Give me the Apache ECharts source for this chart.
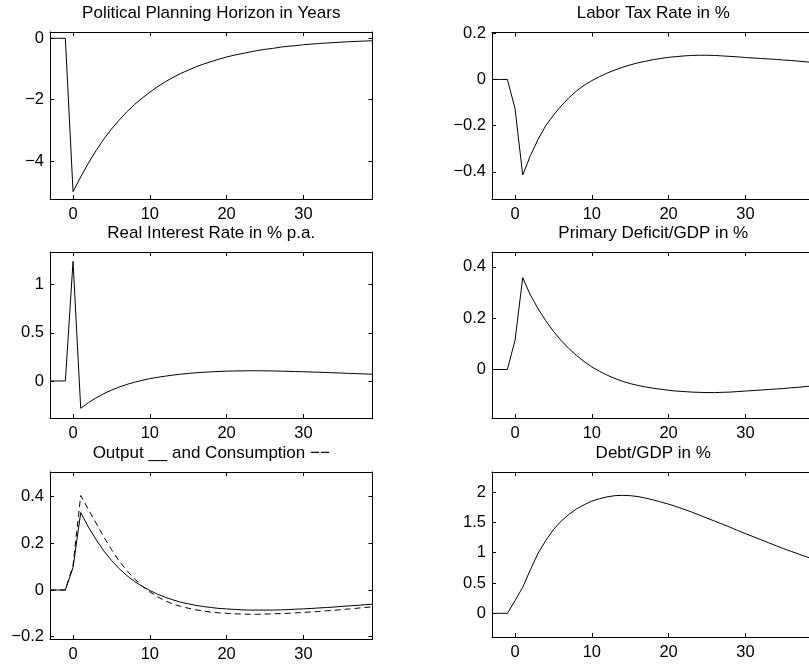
<!DOCTYPE html>
<html>
<head>
<meta charset="utf-8">
<title>Impulse responses</title>
<script src="https://cdn.jsdelivr.net/npm/echarts@6/dist/echarts.min.js"></script>
<style>
  html, body { margin: 0; padding: 0; background: #fff; }
  #chart { width: 809px; height: 667px; }
</style>
</head>
<body>
<div id="chart"></div>
<script>
// years relative to the shock
const years = [-3, -2, -1, 0, 1, 2, 3, 4, 5, 6, 7, 8, 9, 10, 11, 12, 13, 14, 15, 16, 17, 18, 19, 20,
  21, 22, 23, 24, 25, 26, 27, 28, 29, 30, 31, 32, 33, 34, 35, 36, 37, 38, 39]

const horizon = [0, 0, 0, -5.00, -4.52, -4.07, -3.66, -3.29, -2.96, -2.67, -2.40, -2.16, -1.95, -1.76,
  -1.58, -1.42, -1.28, -1.15, -1.04, -0.93, -0.84, -0.76, -0.68, -0.61, -0.55, -0.50, -0.45, -0.40,
  -0.36, -0.33, -0.29, -0.26, -0.24, -0.21, -0.19, -0.17, -0.155, -0.14, -0.125, -0.11, -0.10, -0.09, -0.08]

const laborTax = [0, 0, 0, -0.126, -0.414, -0.33, -0.26, -0.20, -0.155, -0.115, -0.08, -0.05, -0.025,
  -0.005, 0.012, 0.028, 0.041, 0.053, 0.063, 0.072, 0.079, 0.086, 0.091, 0.096, 0.099, 0.102, 0.104,
  0.105, 0.105, 0.104, 0.102, 0.1, 0.098, 0.095, 0.093, 0.091, 0.089, 0.087, 0.084, 0.082, 0.079, 0.076, 0.073]

const realRate = [0, 0, 0, 1.24, -0.283, -0.225, -0.175, -0.132, -0.095, -0.063, -0.036, -0.013, 0.007,
  0.024, 0.038, 0.05, 0.061, 0.07, 0.078, 0.085, 0.09, 0.095, 0.099, 0.102, 0.104, 0.105, 0.106, 0.106,
  0.105, 0.104, 0.102, 0.1, 0.098, 0.096, 0.093, 0.091, 0.088, 0.085, 0.082, 0.079, 0.076, 0.073, 0.07]

const deficit = [0, 0, 0, 0.114, 0.358, 0.29, 0.237, 0.19, 0.149, 0.113, 0.082, 0.055, 0.031, 0.01,
  -0.007, -0.022, -0.035, -0.046, -0.055, -0.062, -0.068, -0.073, -0.077, -0.081, -0.084, -0.086, -0.088,
  -0.089, -0.09, -0.09, -0.089, -0.088, -0.086, -0.084, -0.082, -0.08, -0.078, -0.076, -0.074, -0.071,
  -0.069, -0.066, -0.064]

const output = [0, 0, 0, 0.096, 0.332, 0.27, 0.216, 0.168, 0.127, 0.092, 0.062, 0.037, 0.016, -0.002,
  -0.018, -0.031, -0.042, -0.052, -0.059, -0.066, -0.071, -0.075, -0.079, -0.081, -0.083, -0.085, -0.086,
  -0.086, -0.086, -0.086, -0.085, -0.084, -0.082, -0.081, -0.079, -0.077, -0.075, -0.073, -0.07, -0.068,
  -0.066, -0.063, -0.061]

const consumption = [0, 0, 0, 0.106, 0.405, 0.345, 0.287, 0.228, 0.174, 0.124, 0.084, 0.048, 0.017,
  -0.008, -0.029, -0.046, -0.06, -0.07, -0.078, -0.085, -0.09, -0.095, -0.098, -0.1, -0.102, -0.103,
  -0.104, -0.104, -0.103, -0.102, -0.101, -0.1, -0.098, -0.096, -0.094, -0.092, -0.089, -0.087, -0.084,
  -0.081, -0.078, -0.075, -0.072]

const debt = [0, 0, 0, 0.21, 0.43, 0.72, 0.99, 1.2, 1.38, 1.52, 1.63, 1.72, 1.79, 1.85, 1.89, 1.92,
  1.94, 1.945, 1.94, 1.925, 1.9, 1.87, 1.835, 1.8, 1.76, 1.715, 1.67, 1.62, 1.57, 1.52, 1.47, 1.42, 1.365,
  1.315, 1.265, 1.215, 1.165, 1.115, 1.065, 1.02, 0.975, 0.93, 0.885]

// tick values
const xTicks = [0, 10, 20, 30]
const horizonTicks = [-4, -2, 0]
const taxTicks = [-0.4, -0.2, 0, 0.2]
const rateTicks = [0, 0.5, 1]
const deficitTicks = [0, 0.2, 0.4]
const outputTicks = [-0.2, 0, 0.2, 0.4]
const debtTicks = [0, 0.5, 1, 1.5, 2]

const FONT = '"Liberation Sans", Arial, Helvetica, sans-serif'

const panels = [
  { title: 'Political Planning Horizon in Years', left: 50, top: 32, height: 167, min: -5.24, max: 0.205,
    ticks: horizonTicks, lines: [{ data: horizon }] },
  { title: 'Labor Tax Rate in %', left: 492, top: 32.5, height: 166.5, min: -0.518, max: 0.2035,
    ticks: taxTicks, lines: [{ data: laborTax }] },
  { title: 'Real Interest Rate in % p.a.', left: 50, top: 252, height: 166, min: -0.384, max: 1.338,
    ticks: rateTicks, lines: [{ data: realRate }] },
  { title: 'Primary Deficit/GDP in %', left: 492, top: 252, height: 166, min: -0.189, max: 0.458,
    ticks: deficitTicks, lines: [{ data: deficit }] },
  { title: 'Output __ and Consumption \u2212\u2212', left: 50, top: 472, height: 167, min: -0.21, max: 0.506,
    ticks: outputTicks, lines: [{ data: output }, { data: consumption, dashed: true }] },
  { title: 'Debt/GDP in %', left: 492, top: 472, height: 165, min: -0.39, max: 2.33,
    ticks: debtTicks, lines: [{ data: debt }] }
]

const PLOT_W = 322.5
const TITLE_Y = [13.7, 233.1, 453.1]

const fmt = v => String(v).replace('-', '\u2212')
const axisLine = { show: true, onZero: false, lineStyle: { color: '#000', width: 1 } }
const tick = vals => ({ show: true, inside: true, length: 4, customValues: vals, lineStyle: { color: '#000', width: 1 } })

const grid = []
const xAxis = []
const yAxis = []
const series = []
const graphic = []

panels.forEach((p, i) => {
  grid.push({ left: p.left, top: p.top, width: PLOT_W, height: p.height, containLabel: false, outerBoundsMode: 'none' })

  xAxis.push({
    type: 'value', gridIndex: i, position: 'bottom', min: -3, max: 39,
    axisLine, axisTick: tick(xTicks), splitLine: { show: false },
    axisLabel: { customValues: xTicks, margin: 7, color: '#000', fontSize: 16.5, fontFamily: FONT }
  })
  xAxis.push({
    type: 'value', gridIndex: i, position: 'top', min: -3, max: 39,
    axisLine, axisTick: tick(xTicks), splitLine: { show: false }, axisLabel: { show: false }
  })
  yAxis.push({
    type: 'value', gridIndex: i, position: 'left', min: p.min, max: p.max,
    axisLine, axisTick: tick(p.ticks), splitLine: { show: false },
    axisLabel: { customValues: p.ticks, formatter: fmt, margin: 6, color: '#000', fontSize: 16.5, fontFamily: FONT }
  })
  yAxis.push({
    type: 'value', gridIndex: i, position: 'right', min: p.min, max: p.max,
    axisLine, axisTick: tick(p.ticks), splitLine: { show: false }, axisLabel: { show: false }
  })

  p.lines.forEach(l => {
    series.push({
      type: 'line', xAxisIndex: 2 * i, yAxisIndex: 2 * i,
      data: years.map((yr, k) => [yr, l.data[k]]),
      showSymbol: false, symbol: 'none', silent: true,
      lineStyle: { color: '#000', width: 1, type: l.dashed ? [6, 4] : 'solid' }
    })
  })

  graphic.push({
    type: 'text', x: p.left + PLOT_W / 2, y: TITLE_Y[Math.floor(i / 2)],
    style: { text: p.title, fill: '#000', fontSize: 17, fontFamily: FONT, align: 'center', verticalAlign: 'middle' }
  })
})

const chart = echarts.init(document.getElementById('chart'), null, { renderer: 'canvas' })
chart.setOption({
  backgroundColor: '#fff',
  animation: false,
  grid, xAxis, yAxis, series, graphic
})
</script>
</body>
</html>
